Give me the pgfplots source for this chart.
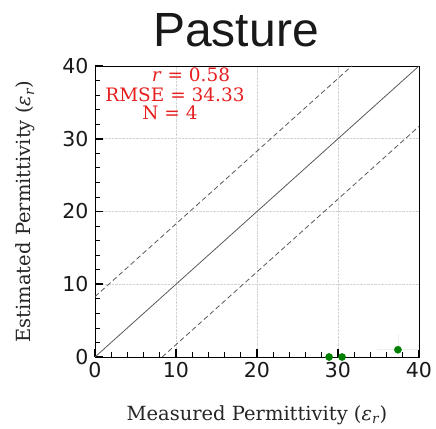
\documentclass[border=0pt]{standalone}
\usepackage{fontspec}
\setmainfont{DejaVu Serif}
\newfontfamily\ticksf{DejaVu Sans}
\newfontfamily\titlef{Liberation Sans}
\usepackage{pgfplots}
\usetikzlibrary{calc}
\pgfplotsset{compat=1.18}
\definecolor{ptgreen}{RGB}{0,128,0}
\definecolor{annred}{RGB}{230,30,30}
\begin{document}
\begin{tikzpicture}
\begin{axis}[
  scale only axis, width=324pt, height=291pt,
  xmin=0, xmax=40, ymin=0, ymax=40,
  xtick={0,10,20,30,40}, ytick={0,10,20,30,40},
  minor tick num=4,
  tick align=inside,
  xtick pos=left, ytick pos=left,
  major tick length=8pt, minor tick length=5pt,
  major tick style={line width=1.6pt, black},
  minor tick style={line width=0.7pt, black},
  grid=major, major grid style={densely dotted, gray!35, line width=0.6pt},
  axis line style={line width=0.9pt, black},
  /pgf/number format/assume math mode=true,
  tick label style={font=\ticksf\fontsize{20.5}{20.5}\selectfont, text=black!90},
  xticklabel style={yshift=-2pt},
  yticklabel style={xshift=-3pt},
  xlabel={Measured Permittivity (\textit{ε}\textsubscript{\textit{r}})},
  ylabel={Estimated Permittivity (\textit{ε}\textsubscript{\textit{r}})},
  label style={font=\fontsize{19.5}{19.5}\selectfont, text=black!85},
  xlabel style={at={(axis description cs:0.5,0)}, anchor=base, yshift=-63pt},
  ylabel style={at={(axis description cs:0,0.5)}, anchor=base, yshift=64pt},
]
\addplot[black!65, line width=0.8pt] coordinates {(0,0) (40,40)};
\addplot[black!65, line width=0.8pt, dash pattern=on 5pt off 3pt] coordinates {(0,8.3) (31.7,40)};
\addplot[black!65, line width=0.8pt, dash pattern=on 5pt off 3pt] coordinates {(8.3,0) (40,31.7)};
\addplot[only marks, draw=none, forget plot, error bars/.cd, x dir=both, x explicit, y dir=plus, y explicit,
  error bar style={green!30!black!8, line width=0.8pt}, error mark=none]
  coordinates {(37.4,1.0) +- (2.6,2.2)};
\addplot[only marks, mark=*, mark size=3.6pt, color=ptgreen] coordinates {(28.9,0.0) (30.5,0.0) (37.4,1.0)};
\coordinate (ll) at (rel axis cs:0,0);
\end{axis}
\node[font=\fontsize{18.5}{18.5}\selectfont, text=annred, anchor=base] at ($(ll)+(96pt,275pt)$) {\textit{r} = 0.58};
\node[font=\fontsize{18.5}{18.5}\selectfont, text=annred, anchor=base] at ($(ll)+(80pt,255pt)$) {RMSE = 34.33};
\node[font=\fontsize{18.5}{18.5}\selectfont, text=annred, anchor=base] at ($(ll)+(75pt,237pt)$) {N = 4};
\node[font=\titlef\fontsize{48}{48}\selectfont, text=black!90, anchor=base] at ($(ll)+(141pt,310pt)$) {Pasture};
\pgfresetboundingbox
\path ($(ll)+(-95pt,-71pt)$) rectangle ++(436pt,428pt);
\end{tikzpicture}
\end{document}
